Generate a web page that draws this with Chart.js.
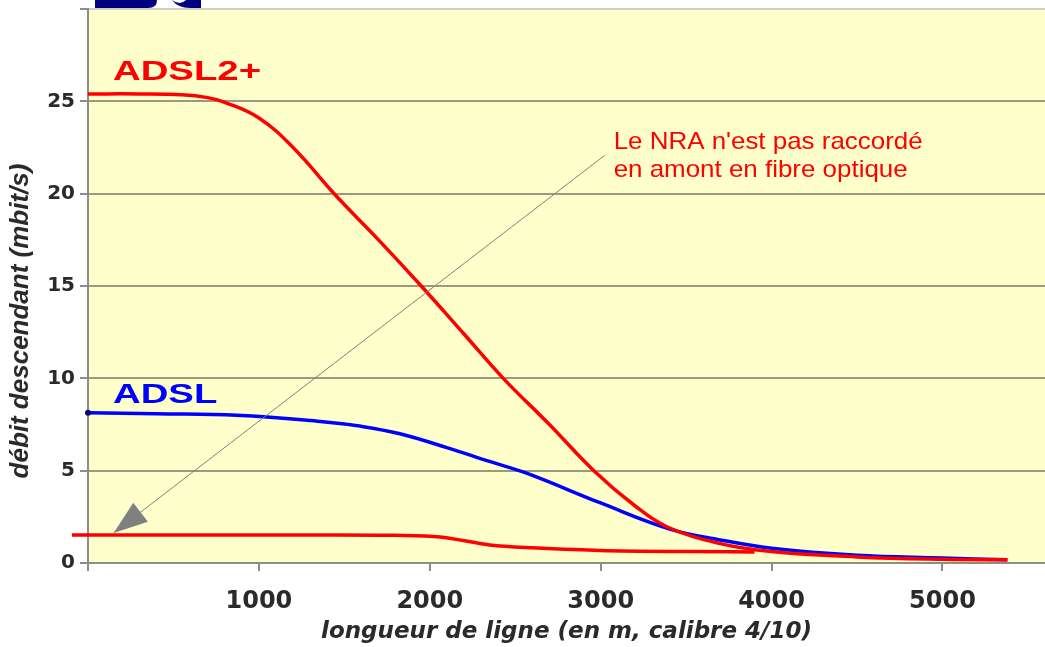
<!DOCTYPE html>
<html>
<head>
<meta charset="utf-8">
<script src="https://cdn.jsdelivr.net/npm/chart.js@4"></script>
<style>
  body { margin: 0; background: #fff; overflow: hidden; }
  canvas { display: block; }
</style>
</head>
<body>
<canvas id="chart" width="1045" height="647"></canvas>
<script>
// line length in metres, downstream rate in mbit/s
const adsl2pDist = [0, 300, 550, 700, 800, 1000, 1200, 1450, 1700, 1950, 2200, 2430, 2700, 2960, 3200, 3390, 3700, 4000, 4500, 5000, 5380];
const adsl2pRate = [25.4, 25.4, 25.35, 25.2, 24.95, 24.1, 22.5, 19.9, 17.5, 15.0, 12.4, 10.0, 7.5, 5.0, 3.1, 1.95, 1.05, 0.62, 0.33, 0.2, 0.17];

const adslDist = [0, 400, 870, 1374, 1600, 1825, 2100, 2350, 2570, 3000, 3400, 3700, 4000, 4500, 5000, 5380];
const adslRate = [8.13, 8.08, 8.0, 7.65, 7.4, 7.0, 6.25, 5.5, 4.85, 3.25, 1.85, 1.25, 0.8, 0.42, 0.27, 0.17];

const nraDist = [-94, 500, 1000, 1450, 1800, 2060, 2350, 2600, 3000, 3500, 3900];
const nraRate = [1.52, 1.52, 1.52, 1.52, 1.5, 1.41, 0.98, 0.82, 0.68, 0.62, 0.6];

const xTicks = [0, 1000, 2000, 3000, 4000, 5000];
const yTicks = [0, 5, 10, 15, 20, 25, 30];

const seriesLabels = ['ADSL2+', 'ADSL', 'NRA non raccordé'];
const xTitle = 'longueur de ligne (en m, calibre 4/10)';
const yTitle = 'débit descendant (mbit/s)';

function points(xs, ys) {
    return xs.map((x, i) => ({x: x, y: ys[i]}));
}

const plotBg = {
    id: 'plotBg',
    beforeDraw(chart) {
        const a = chart.chartArea, ctx = chart.ctx;
        ctx.save();
        ctx.fillStyle = '#ffffcc';
        ctx.fillRect(a.left, a.top, a.right - a.left, a.bottom - a.top);
        ctx.restore();
    }
};

function stretchedText(ctx, txt, x, y, font, color, sx) {
    ctx.save();
    ctx.font = font;
    ctx.fillStyle = color;
    ctx.textBaseline = 'middle';
    ctx.translate(x, y);
    ctx.scale(sx, 1);
    ctx.fillText(txt, 0, 0);
    ctx.restore();
}

const notes = {
    id: 'notes',
    afterDatasetsDraw(chart) {
        const ctx = chart.ctx, sx = chart.scales.x, sy = chart.scales.y;
        // series labels
        stretchedText(ctx, seriesLabels[0], sx.getPixelForValue(146), sy.getPixelForValue(26.6), 'bold 28px "Liberation Sans", Arial', '#ff0000', 1.37);
        stretchedText(ctx, seriesLabels[1], sx.getPixelForValue(146), sy.getPixelForValue(9.1), 'bold 28px "Liberation Sans", Arial', '#0000ff', 1.37);

        // arrow
        const x0 = sx.getPixelForValue(3023), y0 = sy.getPixelForValue(22.07);
        const x1 = sx.getPixelForValue(150), y1 = sy.getPixelForValue(1.63);
        ctx.save();
        ctx.strokeStyle = '#808080';
        ctx.lineWidth = 1;
        ctx.beginPath();
        ctx.moveTo(x0, y0);
        ctx.lineTo(x1, y1);
        ctx.stroke();
        const ang = Math.atan2(y1 - y0, x1 - x0);
        const len = 34, half = 12;
        const bx = x1 - len * Math.cos(ang), by = y1 - len * Math.sin(ang);
        ctx.fillStyle = '#808080';
        ctx.beginPath();
        ctx.moveTo(x1, y1);
        ctx.lineTo(bx + half * Math.sin(ang), by - half * Math.cos(ang));
        ctx.lineTo(bx - half * Math.sin(ang), by + half * Math.cos(ang));
        ctx.closePath();
        ctx.fill();
        ctx.restore();

        // note text
        const tx = sx.getPixelForValue(3076);
        stretchedText(ctx, "Le NRA n'est pas raccordé", tx, sy.getPixelForValue(22.8), '24px "Liberation Sans", Arial', '#ff0000', 1.08);
        stretchedText(ctx, 'en amont en fibre optique', tx, sy.getPixelForValue(21.25), '24px "Liberation Sans", Arial', '#ff0000', 1.08);
    }
};

// the y title sits lower than centre in the original, so draw it by hand
const yAxisTitle = {
    id: 'yAxisTitle',
    afterDraw(chart) {
        const ctx = chart.ctx, a = chart.chartArea;
        ctx.save();
        ctx.fillStyle = '#2a2a2a';
        ctx.textAlign = 'center';
        ctx.textBaseline = 'middle';
        ctx.translate(21, a.bottom - 242);
        ctx.rotate(-Math.PI / 2);
        ctx.font = 'italic bold 26px "Liberation Sans"';
        ctx.fillText(yTitle, 0, 0);
        ctx.restore();
    }
};

// bit of a cropped logo peeking in at the top
const logoBit = {
    id: 'logoBit',
    afterDraw(chart) {
        const ctx = chart.ctx;
        ctx.save();
        ctx.fillStyle = '#000080';
        ctx.beginPath();
        ctx.moveTo(95, 0);
        ctx.lineTo(157, 0);
        ctx.quadraticCurveTo(157, 8, 148, 8);
        ctx.lineTo(95, 8);
        ctx.closePath();
        ctx.fill();
        ctx.beginPath();
        ctx.moveTo(172, 0);
        ctx.quadraticCurveTo(180, 6, 186, 0);
        ctx.lineTo(201, 0);
        ctx.lineTo(201, 8);
        ctx.lineTo(190, 8);
        ctx.quadraticCurveTo(178, 8, 172, 0);
        ctx.closePath();
        ctx.fill();
        ctx.restore();
    }
};

new Chart(document.getElementById('chart'), {
    type: 'line',
    data: {
        datasets: [{
            label: seriesLabels[0],
            data: points(adsl2pDist, adsl2pRate),
            borderColor: '#ff0000',
            borderWidth: 3.5,
            pointRadius: 0,
            tension: 0.4
        }, {
            label: seriesLabels[1],
            data: points(adslDist, adslRate),
            borderColor: '#0000ff',
            borderWidth: 3.5,
            pointRadius: adslDist.map((d, i) => i === 0 ? 3 : 0),
            pointBackgroundColor: '#000080',
            pointBorderWidth: 0,
            tension: 0.4,
            clip: {left: 10, top: 0, right: 0, bottom: 0}
        }, {
            label: seriesLabels[2],
            data: points(nraDist, nraRate),
            borderColor: '#ff0000',
            borderWidth: 3.5,
            pointRadius: 0,
            cubicInterpolationMode: 'monotone',
            clip: {left: 20, top: 0, right: 0, bottom: 0}
        }]
    },
    options: {
        responsive: false,
        animation: false,
        layout: { autoPadding: false, padding: { top: 9, right: 0, bottom: 0, left: 0 } },
        plugins: {
            legend: { display: false },
            tooltip: { enabled: false }
        },
        scales: {
            x: {
                type: 'linear',
                min: 0,
                max: 5600,
                afterFit: s => { s.height = 84; s.paddingLeft = 0; s.paddingRight = 0; },
                afterBuildTicks: s => { s.ticks = xTicks.map(v => ({value: v})); },
                grid: { drawOnChartArea: false, tickLength: 8, color: '#8c8c8c', lineWidth: 2 },
                border: { color: '#8c8c8c', width: 2 },
                ticks: {
                    callback: v => v === 0 ? '' : v,
                    font: { family: 'DejaVu Sans', weight: 'bold', size: 24 },
                    color: '#2a2a2a',
                    padding: 16,
                    maxRotation: 0
                },
                title: {
                    display: true,
                    text: xTitle,
                    font: { family: 'DejaVu Sans', weight: 'bold', style: 'italic', size: 23 },
                    color: '#2a2a2a',
                    padding: { top: 0, bottom: 1 }
                }
            },
            y: {
                min: 0,
                max: 30,
                afterFit: s => { s.width = 88; s.paddingTop = 0; s.paddingBottom = 0; },
                afterBuildTicks: s => { s.ticks = yTicks.map(v => ({value: v})); },
                grid: {
                    tickLength: 8,
                    lineWidth: 2,
                    color: c => c.tick.value === 30 ? '#cfcfc4' : (c.tick.value === 0 ? '#8c8c8c' : '#9a9a80'),
                    tickColor: '#8c8c8c'
                },
                border: { color: '#8c8c8c', width: 2 },
                ticks: {
                    callback: v => v === 30 ? '' : v,
                    font: { family: 'DejaVu Sans', weight: 'bold', size: 20 },
                    color: '#2a2a2a',
                    padding: 5
                }
            }
        }
    },
    plugins: [plotBg, notes, yAxisTitle, logoBit]
});
</script>
</body>
</html>
